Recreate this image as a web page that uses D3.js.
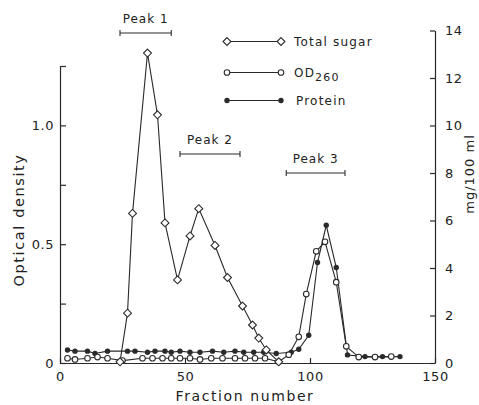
<!DOCTYPE html>
<html>
<head>
<meta charset="utf-8">
<script src="https://cdn.jsdelivr.net/npm/d3@7"></script>
<style>
  body { margin: 0; background: #fff; }
  text { font-family: "DejaVu Sans", sans-serif; fill: #222; }
</style>
</head>
<body>
<div id="chart-area"></div>
<script>
// fractions (x) and values
var sugarFrac = [24, 27, 29, 35, 39, 42, 47, 52, 55.5, 62, 67, 73, 77, 79.5, 82.5, 87.5];
var sugarVal  = [0.05, 2.1, 6.3, 13.05, 10.45, 5.9, 3.5, 5.35, 6.5, 4.95, 3.6, 2.4, 1.6, 1.05, 0.55, 0.05]; // mg/100ml

var odFrac = [3, 6, 11, 15, 19, 25, 33, 37, 41, 44.5, 48, 52, 56, 60.5, 65, 70, 74, 78, 82, 87.5,
              91.5, 95.5, 98.5, 102.5, 106, 110.5, 114.5, 119.5, 126, 132.5];
var odVal  = [0.02, 0.015, 0.02, 0.025, 0.02, 0.01, 0.02, 0.02, 0.02, 0.02, 0.02, 0.02, 0.015, 0.02, 0.02, 0.02, 0.02, 0.02, 0.02, 0.005,
              0.035, 0.11, 0.29, 0.47, 0.51, 0.34, 0.07, 0.025, 0.025, 0.027]; // optical density

var protFrac = [3, 6, 11, 14, 19, 27, 30, 35, 38, 42, 44.5, 48, 52, 56, 61, 65.5, 70, 73.5, 77.5, 81.5, 86.5, 92.5,
                95.5, 99.5, 103, 106.5, 110.5, 115, 122, 129, 136];
var protVal  = [0.55, 0.5, 0.5, 0.4, 0.5, 0.5, 0.5, 0.45, 0.5, 0.5, 0.45, 0.5, 0.45, 0.45, 0.5, 0.45, 0.5, 0.45, 0.45, 0.45, 0.4, 0.45,
                0.58, 1.17, 4.23, 5.8, 4.02, 0.34, 0.27, 0.27, 0.27]; // mg/100ml

var xTicks = [0, 50, 100, 150];
var leftTicks = [0, 0.25, 0.5, 0.75, 1.0, 1.25];
var leftLabels = {0: "0", 0.5: "0.5", 1: "1.0"};
var rightTicks = [0, 2, 4, 6, 8, 10, 12, 14];

var peaks = [
    { name: "Peak 1", from: 24, to: 44.5 },
    { name: "Peak 2", from: 48, to: 72 },
    { name: "Peak 3", from: 90.5, to: 114 }
];

var W = 479, H = 405;
var ink = "#2a2a2a";

var svg = d3.select("#chart-area")
    .append("svg")
        .attr("width", W)
        .attr("height", H);

var x = d3.scaleLinear().domain([0, 150]).range([60, 435]);
var yL = d3.scaleLinear().domain([0, 1.25]).range([363, 66]);
var yR = d3.scaleLinear().domain([0, 14]).range([363, 30.5]);

function zip(a, b){
    return a.map(function(d, i){ return { x: d, y: b[i] }; });
}
var sugar = zip(sugarFrac, sugarVal),
    od = zip(odFrac, odVal),
    prot = zip(protFrac, protVal);

// axes
var xAxis = d3.axisBottom(x).tickValues(xTicks).tickSizeInner(-5).tickSizeOuter(0).tickPadding(8);
var lAxis = d3.axisLeft(yL).tickValues(leftTicks).tickSizeInner(-6).tickSizeOuter(0).tickPadding(4)
    .tickFormat(function(d){ return leftLabels[d] || ""; });
var rAxis = d3.axisRight(yR).tickValues(rightTicks).tickSizeInner(-5).tickSizeOuter(0).tickPadding(10);

svg.append("g").attr("class", "axis axis--x")
    .attr("transform", "translate(0," + yL(0) + ")")
    .call(xAxis);
svg.append("g").attr("class", "axis axis--l")
    .attr("transform", "translate(" + x(0) + ",0)")
    .call(lAxis);
svg.append("g").attr("class", "axis axis--r")
    .attr("transform", "translate(" + x(150) + ",0)")
    .call(rAxis);

svg.selectAll(".axis path, .axis line").attr("stroke", ink).attr("stroke-width", 1.2);
svg.selectAll(".axis text").attr("font-size", 13).attr("fill", ink)
    .attr("font-family", "DejaVu Sans, sans-serif").attr("letter-spacing", 0.5);
svg.selectAll(".axis--x .tick text").attr("dy", "0.8em");
svg.selectAll(".axis--l .tick text").attr("dx", -2);

// axis titles
svg.append("text")
    .attr("x", 245).attr("y", 401)
    .attr("text-anchor", "middle")
    .attr("font-size", 14).attr("letter-spacing", 1.6)
    .text("Fraction number");
svg.append("text")
    .attr("transform", "translate(24,220) rotate(-90)")
    .attr("text-anchor", "middle")
    .attr("font-size", 14.5).attr("letter-spacing", 1.6)
    .text("Optical density");
svg.append("text")
    .attr("transform", "translate(474,174) rotate(-90)")
    .attr("text-anchor", "middle")
    .attr("font-size", 13).attr("letter-spacing", 1)
    .text("mg/100 ml");

// lines
var line = function(ys){
    return d3.line().x(function(d){ return x(d.x); }).y(function(d){ return ys(d.y); });
};
svg.append("path").datum(prot).attr("d", line(yR)).attr("fill", "none").attr("stroke", ink).attr("stroke-width", 1.1);
svg.append("path").datum(od).attr("d", line(yL)).attr("fill", "none").attr("stroke", ink).attr("stroke-width", 1.1);
svg.append("path").datum(sugar).attr("d", line(yR)).attr("fill", "none").attr("stroke", ink).attr("stroke-width", 1.1);

// markers
var diamond = d3.symbol().type(d3.symbolDiamond2).size(40);
svg.selectAll(".pt-prot").data(prot).enter().append("circle")
    .attr("class", "pt-prot")
    .attr("cx", function(d){ return x(d.x); })
    .attr("cy", function(d){ return yR(d.y); })
    .attr("r", 2.7)
    .attr("fill", ink);
svg.selectAll(".pt-od").data(od).enter().append("circle")
    .attr("class", "pt-od")
    .attr("cx", function(d){ return x(d.x); })
    .attr("cy", function(d){ return yL(d.y); })
    .attr("r", 2.8)
    .attr("fill", "#fff").attr("stroke", ink).attr("stroke-width", 1.1);
svg.selectAll(".pt-sugar").data(sugar).enter().append("path")
    .attr("class", "pt-sugar")
    .attr("transform", function(d){ return "translate(" + x(d.x) + "," + yR(d.y) + ")"; })
    .attr("d", diamond)
    .attr("fill", "#fff").attr("stroke", ink).attr("stroke-width", 1.1);

// peak brackets
var pk = svg.selectAll(".peak").data(peaks).enter().append("g").attr("class", "peak");
var peakY = [33, 154, 173];
pk.append("line")
    .attr("x1", function(d){ return x(d.from); })
    .attr("x2", function(d){ return x(d.to); })
    .attr("y1", function(d, i){ return peakY[i]; })
    .attr("y2", function(d, i){ return peakY[i]; })
    .attr("stroke", ink).attr("stroke-width", 1.1);
[0, 1].forEach(function(k){
    pk.append("line")
        .attr("x1", function(d){ return x(k ? d.to : d.from); })
        .attr("x2", function(d){ return x(k ? d.to : d.from); })
        .attr("y1", function(d, i){ return peakY[i] - 3; })
        .attr("y2", function(d, i){ return peakY[i] + 3; })
        .attr("stroke", ink).attr("stroke-width", 1.1);
});
pk.append("text")
    .attr("x", function(d){ return (x(d.from) + x(d.to)) / 2; })
    .attr("y", function(d, i){ return peakY[i] - 10; })
    .attr("text-anchor", "middle")
    .attr("font-size", 12).attr("letter-spacing", 1)
    .text(function(d){ return d.name; });

// legend
var legend = svg.append("g").attr("class", "legend");
var legY = [41.5, 72.5, 100.5], lx0 = 227, lx1 = 281;
legY.forEach(function(yy){
    legend.append("line").attr("x1", lx0).attr("x2", lx1).attr("y1", yy).attr("y2", yy)
        .attr("stroke", ink).attr("stroke-width", 1.1);
});
[lx0, lx1].forEach(function(xx){
    legend.append("path").attr("transform", "translate(" + xx + "," + legY[0] + ")")
        .attr("d", diamond).attr("fill", "#fff").attr("stroke", ink).attr("stroke-width", 1.1);
    legend.append("circle").attr("cx", xx).attr("cy", legY[1]).attr("r", 2.8)
        .attr("fill", "#fff").attr("stroke", ink).attr("stroke-width", 1.1);
    legend.append("circle").attr("cx", xx).attr("cy", legY[2]).attr("r", 2.7).attr("fill", ink);
});
legend.append("text").attr("x", 294).attr("y", legY[0] + 4.5)
    .attr("font-size", 12).attr("letter-spacing", 1.2).text("Total sugar");
var odt = legend.append("text").attr("x", 294).attr("y", legY[1] + 4)
    .attr("font-size", 12).attr("letter-spacing", 1.2);
odt.append("tspan").text("OD");
odt.append("tspan").attr("dy", 4).attr("font-size", 11).text("260");
legend.append("text").attr("x", 296).attr("y", legY[2] + 4.5)
    .attr("font-size", 12).attr("letter-spacing", 1.2).text("Protein");
</script>
</body>
</html>
